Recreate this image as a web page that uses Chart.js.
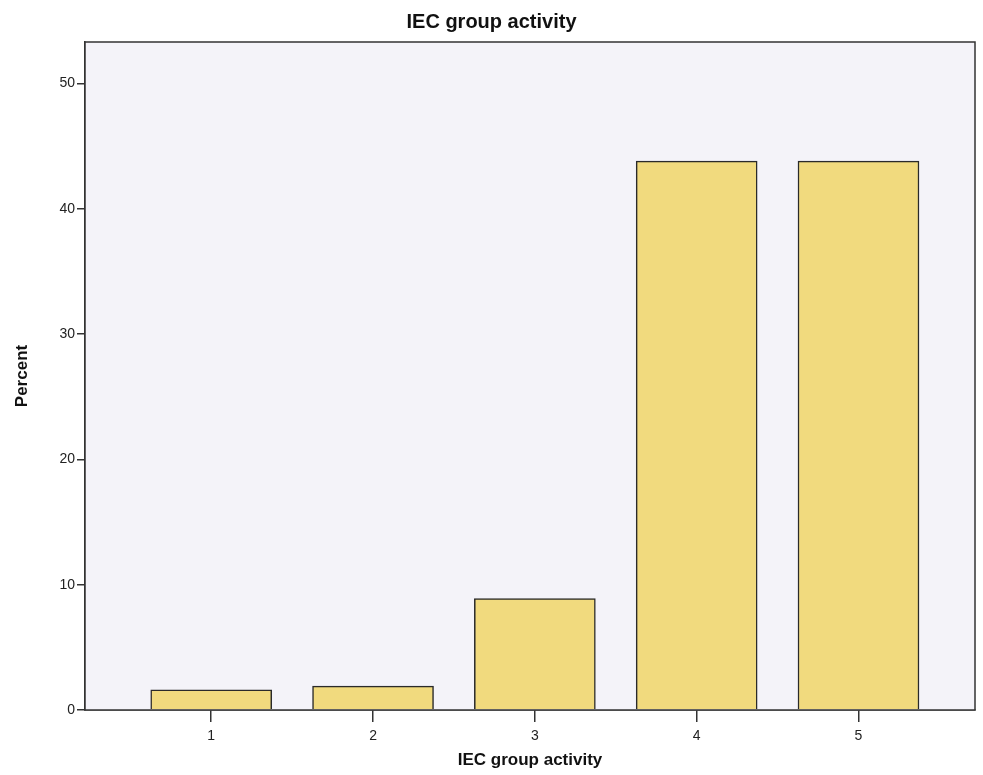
<!DOCTYPE html>
<html>
<head>
<meta charset="utf-8">
<script src="https://cdn.jsdelivr.net/npm/chart.js@4.4.0/dist/chart.umd.min.js"></script>
<style>
  html, body { margin: 0; padding: 0; background: #fff; }
  #wrap { width: 983px; height: 775px; }
</style>
</head>
<body>
<div id="wrap"><canvas id="chart" width="983" height="775"></canvas></div>
<script>
const categories = [1, 2, 3, 4, 5];
const percents = [1.6, 1.9, 8.9, 43.8, 43.8];
const yTicks = [0, 10, 20, 30, 40, 50];

Chart.defaults.font.family = "'Liberation Sans', Arial, sans-serif";
Chart.defaults.color = '#222';

// frame + light plot background, like the SPSS output
const plotFrame = {
  id: 'plotFrame',
  beforeDatasetsDraw(chart) {
    const { ctx, chartArea: a } = chart;
    ctx.save();
    ctx.fillStyle = '#f4f3f9';
    ctx.fillRect(a.left, a.top, a.right - a.left, a.bottom - a.top);
    ctx.restore();
  },
  afterDraw(chart) {
    const { ctx, chartArea: a } = chart;
    ctx.save();
    ctx.strokeStyle = '#333';
    ctx.lineWidth = 1.5;
    ctx.strokeRect(a.left, a.top, a.right - a.left, a.bottom - a.top);
    ctx.restore();
  }
};

new Chart(document.getElementById('chart'), {
  type: 'bar',
  data: {
    datasets: [{
      label: 'Percent',
      data: categories.map((c, i) => ({ x: c, y: percents[i] })),
      backgroundColor: '#f1da7e',
      borderColor: '#2a2a2a',
      borderWidth: 1.5,
      barThickness: 121
    }]
  },
  plugins: [plotFrame],
  options: {
    responsive: false,
    animation: false,
    layout: { padding: { top: 2, right: 8, left: 8, bottom: 0 } },
    plugins: {
      legend: { display: false },
      tooltip: { enabled: false },
      title: {
        display: true,
        text: 'IEC group activity',
        color: '#111',
        font: { size: 20, weight: 'bold' },
        padding: { top: 8, bottom: 8 }
      }
    },
    scales: {
      x: {
        type: 'linear',
        offset: false,
        min: 0.22,
        max: 5.72,
        afterBuildTicks(scale) {
          scale.ticks = categories.map(v => ({ value: v }));
        },
        afterFit(scale) { scale.height = 65; },
        ticks: {
          color: '#222',
          font: { size: 14 },
          padding: 6,
          callback: v => String(v)
        },
        grid: { display: true, offset: false, drawOnChartArea: false, tickLength: 12, color: '#333', lineWidth: 1.5 },
        border: { color: '#333', width: 1.5 },
        title: {
          display: true,
          text: 'IEC group activity',
          color: '#111',
          font: { size: 17, weight: 'bold' },
          padding: { top: 2 }
        }
      },
      y: {
        min: 0,
        max: 53.3,
        afterBuildTicks(scale) {
          scale.ticks = yTicks.map(v => ({ value: v }));
        },
        afterFit(scale) { scale.width = 77; },
        ticks: {
          color: '#222',
          font: { size: 14 },
          padding: 2
        },
        grid: { display: true, drawOnChartArea: false, tickLength: 8, color: '#333', lineWidth: 1.5 },
        border: { color: '#333', width: 1.5 },
        title: {
          display: true,
          text: 'Percent',
          color: '#111',
          font: { size: 17, weight: 'bold' },
          padding: { bottom: 8 }
        }
      }
    }
  }
});
</script>
</body>
</html>
